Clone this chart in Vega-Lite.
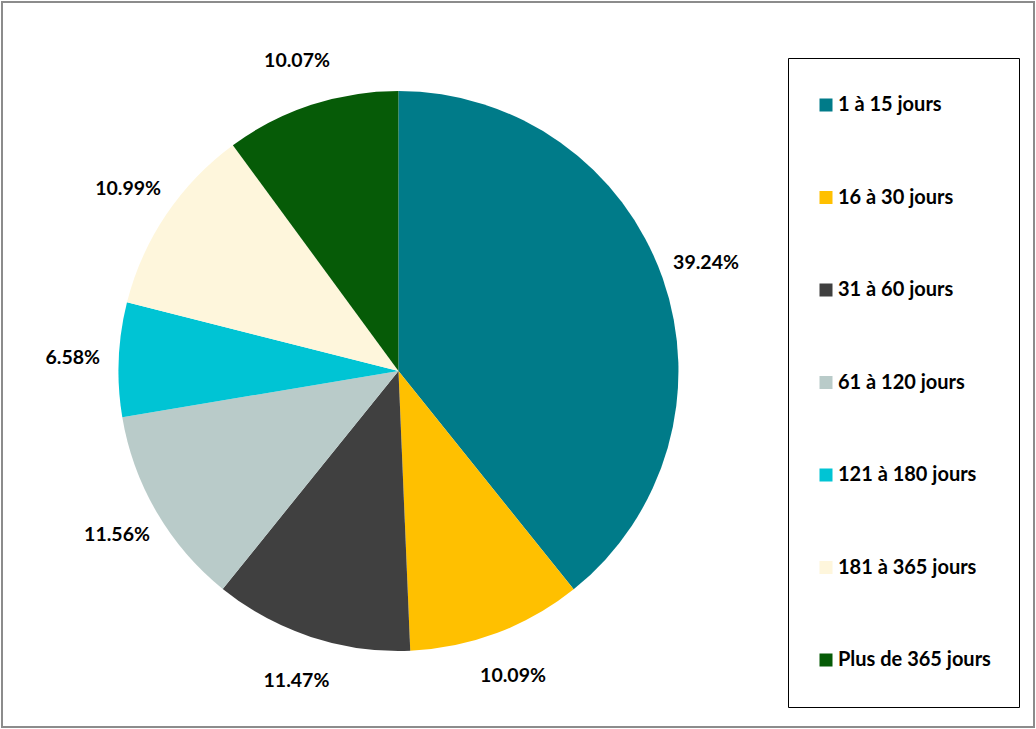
{
  "$schema": "https://vega.github.io/schema/vega-lite/v6.json",
  "width": 1036,
  "height": 729,
  "autosize": {"type": "fit", "contains": "padding"},
  "padding": 1,
  "background": "white",
  "config": {
    "view": {"stroke": null},
    "font": "Lato"
  },
  "layer": [
    {
      "data": {"values": [{"frame": "border"}]},
      "mark": {"type": "rect", "fill": null, "stroke": "#8c8c8c", "strokeWidth": 2},
      "encoding": {}
    },
    {
      "data": {"name": "slices"},
      "layer": [
        {
          "mark": {"type": "arc", "outerRadius": 280, "x": {"expr": "width*398/1036"}, "y": {"expr": "height*371/729"}},
          "encoding": {
            "theta": {"field": "value", "type": "quantitative", "stack": true},
            "order": {"field": "order", "type": "quantitative"},
            "color": {
              "field": "cat",
              "type": "nominal",
              "sort": ["1 à 15 jours", "16 à 30 jours", "31 à 60 jours", "61 à 120 jours", "121 à 180 jours", "181 à 365 jours", "Plus de 365 jours"],
              "scale": {
                "domain": ["1 à 15 jours", "16 à 30 jours", "31 à 60 jours", "61 à 120 jours", "121 à 180 jours", "181 à 365 jours", "Plus de 365 jours"],
                "range": ["#007B89", "#FFC000", "#404040", "#B9CBC9", "#00C4D4", "#FEF6DC", "#065B07"]
              },
              "legend": {
                "title": null,
                "orient": "none",
                "legendX": 786,
                "legendY": 56,
                "strokeColor": "#000000",
                "padding": 28,
                "clipHeight": 38,
                "rowPadding": 54.5,
                "symbolType": "square",
                "symbolSize": 169,
                "symbolStrokeWidth": 0,
                "symbolOffset": 0,
                "labelOffset": 2,
                "labelFont": "Lato",
                "labelFontSize": 20,
                "labelFontWeight": "bold",
                "labelColor": "#000000",
                "labelLimit": 300
              }
            }
          }
        },
        {
          "mark": {"type": "text", "radius": 326, "x": {"expr": "width*398/1036"}, "y": {"expr": "height*371/729"}, "font": "Lato", "fontSize": 19.5, "fontWeight": "bold", "color": "#000000"},
          "encoding": {
            "theta": {"field": "value", "type": "quantitative", "stack": true},
            "order": {"field": "order", "type": "quantitative"},
            "text": {"field": "label", "type": "nominal"}
          }
        }
      ]
    }
  ],
  "datasets": {
    "slices": [
      {"cat": "1 à 15 jours", "value": 39.24, "label": "39.24%", "order": 1},
      {"cat": "16 à 30 jours", "value": 10.09, "label": "10.09%", "order": 2},
      {"cat": "31 à 60 jours", "value": 11.47, "label": "11.47%", "order": 3},
      {"cat": "61 à 120 jours", "value": 11.56, "label": "11.56%", "order": 4},
      {"cat": "121 à 180 jours", "value": 6.58, "label": "6.58%", "order": 5},
      {"cat": "181 à 365 jours", "value": 10.99, "label": "10.99%", "order": 6},
      {"cat": "Plus de 365 jours", "value": 10.07, "label": "10.07%", "order": 7}
    ]
  }
}
